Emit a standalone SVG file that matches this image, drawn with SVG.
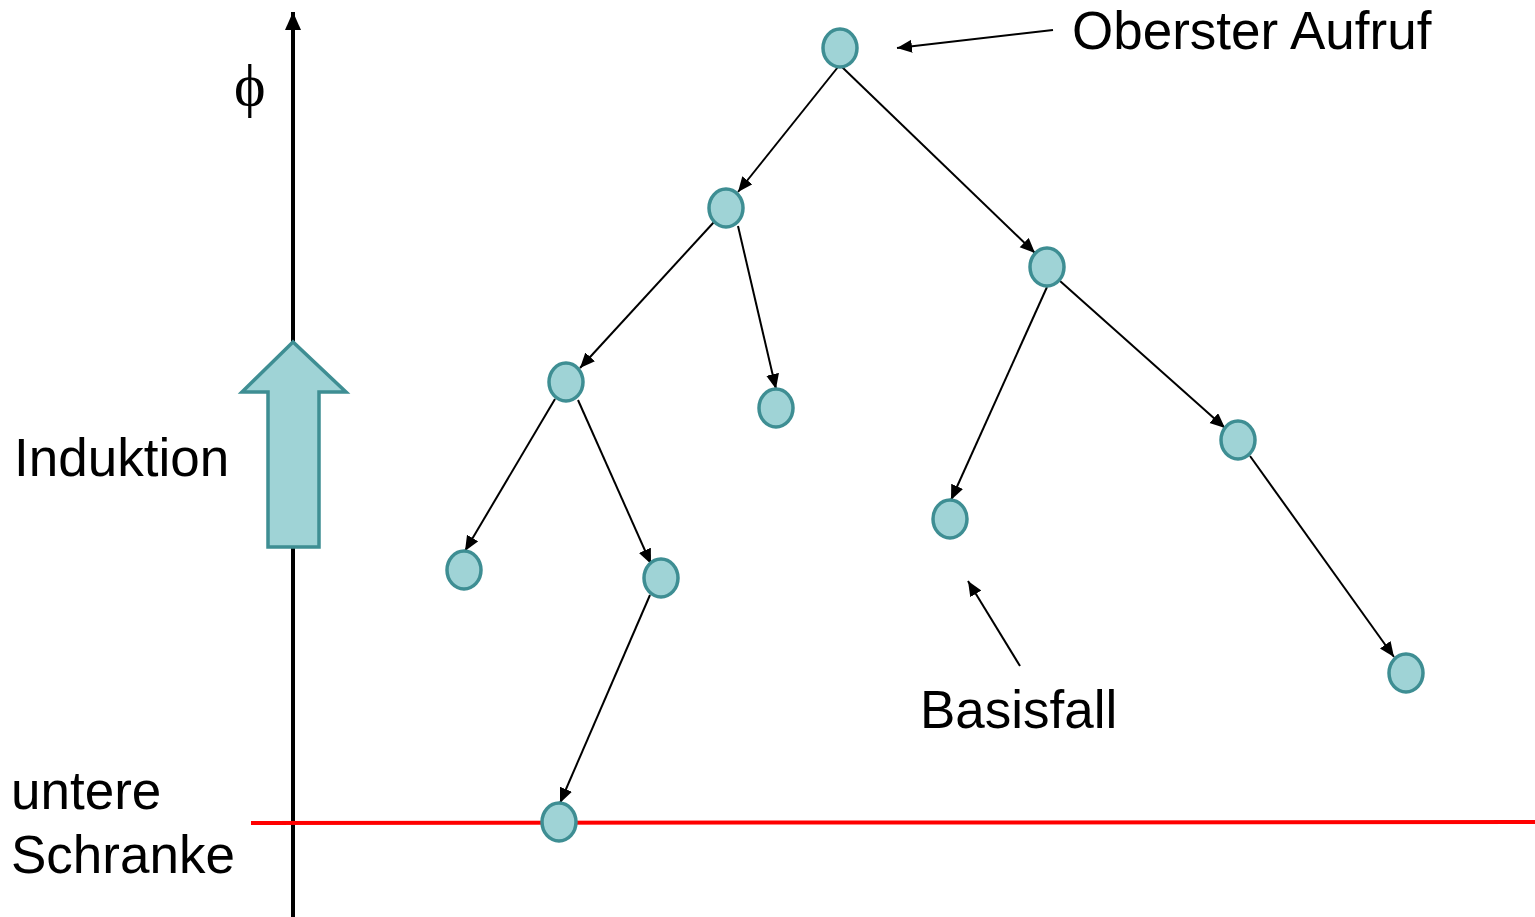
<svg xmlns="http://www.w3.org/2000/svg" width="1535" height="917" viewBox="0 0 1535 917">
<style>
.node{fill:#9fd3d6;stroke:#3e8e93;stroke-width:3.5}
.edge{stroke:#000;stroke-width:2;fill:none;marker-end:url(#ah)}
.lbl{font-family:"Liberation Sans",Arial,sans-serif;font-size:53px;fill:#000}
</style>
<defs>
<marker id="ah" markerUnits="userSpaceOnUse" markerWidth="17" markerHeight="14" refX="15" refY="6.5" orient="auto">
<path d="M0,0 L15,6.5 L0,13 Z" fill="#000"/>
</marker>
<marker id="axh" markerUnits="userSpaceOnUse" markerWidth="20" markerHeight="20" refX="18" refY="8" orient="auto">
<path d="M0,0 L18,8 L0,16 Z" fill="#000"/>
</marker>
</defs>
<rect width="1535" height="917" fill="#fff"/>
<g id="axis">
<line x1="293" y1="917" x2="293" y2="12" stroke="#000" stroke-width="4" marker-end="url(#axh)"/>
<text x="234" y="105" font-family="'Liberation Serif','Times New Roman',serif" font-size="60" fill="#000">ϕ</text>
</g>
<g id="bound">
<line x1="251" y1="823" x2="1535" y2="822" stroke="#ff0000" stroke-width="4"/>
</g>
<g id="induction-arrow">
<polygon points="293,342 242,392 268,392 268,547 319,547 319,392 346,392" fill="#9fd3d6" stroke="#3e8e93" stroke-width="3.5"/>
</g>
<g id="connectors">
<line class="edge" x1="838" y1="67" x2="738" y2="192"/>
<line class="edge" x1="842" y1="67" x2="1035" y2="253"/>
<line class="edge" x1="714" y1="222" x2="580" y2="368"/>
<line class="edge" x1="738" y1="226" x2="776" y2="389"/>
<line class="edge" x1="1047" y1="287" x2="951" y2="500"/>
<line class="edge" x1="1060" y1="281" x2="1225" y2="428"/>
<line class="edge" x1="555" y1="399" x2="465" y2="551"/>
<line class="edge" x1="578" y1="400" x2="651" y2="564"/>
<line class="edge" x1="1250" y1="456" x2="1394" y2="657"/>
<line class="edge" x1="650" y1="595" x2="560" y2="803"/>
<line class="edge" x1="1053" y1="30" x2="897" y2="48"/>
<line class="edge" x1="1020" y1="666" x2="968" y2="581"/>
</g>
<g id="n1"><ellipse class="node" cx="840" cy="48" rx="17" ry="19"/></g>
<g id="n2"><ellipse class="node" cx="726" cy="208" rx="17" ry="19"/></g>
<g id="n3"><ellipse class="node" cx="1047" cy="267" rx="17" ry="19"/></g>
<g id="n4"><ellipse class="node" cx="566" cy="382" rx="17" ry="19"/></g>
<g id="n5"><ellipse class="node" cx="776" cy="408" rx="17" ry="19"/></g>
<g id="n6"><ellipse class="node" cx="1238" cy="440" rx="17" ry="19"/></g>
<g id="n7"><ellipse class="node" cx="950" cy="519" rx="17" ry="19"/></g>
<g id="n8"><ellipse class="node" cx="464" cy="570" rx="17" ry="19"/></g>
<g id="n9"><ellipse class="node" cx="661" cy="578" rx="17" ry="19"/></g>
<g id="n10"><ellipse class="node" cx="1406" cy="673" rx="17" ry="19"/></g>
<g id="n11"><ellipse class="node" cx="559" cy="822" rx="17" ry="19"/></g>
<g id="labels">
<text class="lbl" x="1072" y="49">Oberster Aufruf</text>
<text class="lbl" x="14" y="476">Induktion</text>
<text class="lbl" x="920" y="728">Basisfall</text>
<text class="lbl" x="11" y="809">untere</text>
<text class="lbl" x="11" y="873">Schranke</text>
</g>
</svg>
